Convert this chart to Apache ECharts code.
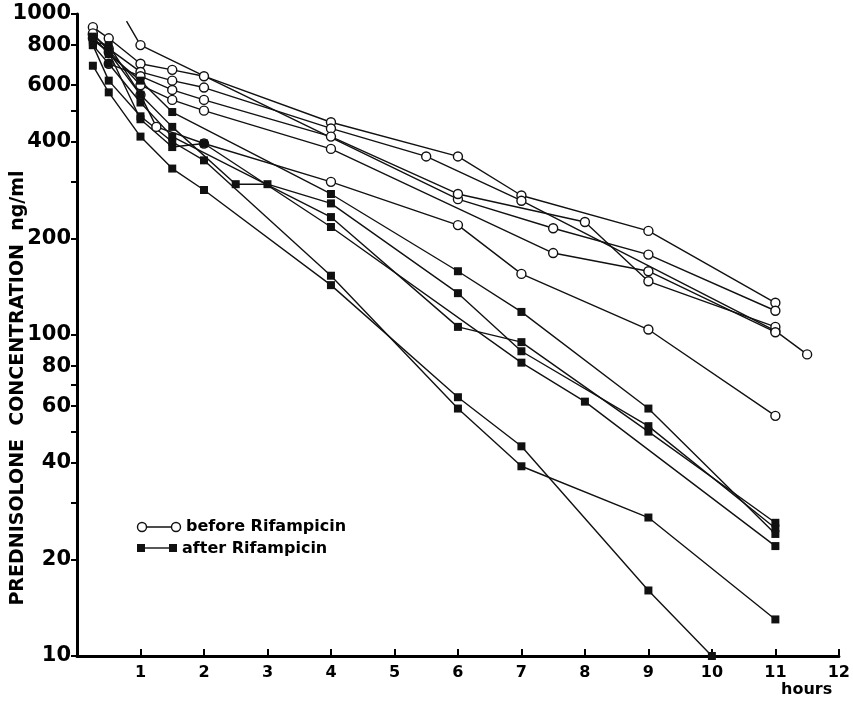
<!DOCTYPE html>
<html>
<head>
<meta charset="utf-8">
<script src="https://cdn.jsdelivr.net/npm/echarts@6/dist/echarts.min.js"></script>
<style>
  html, body { margin: 0; padding: 0; background: #fff; }
  #chart { width: 853px; height: 701px; }
</style>
</head>
<body>
<div id="chart"></div>
<script>
// hours, ng/ml
// before Rifampicin (open circles)
var before1 = [[0.25, 910], [0.5, 840], [1, 700], [1.5, 670], [2, 640], [4, 460], [6, 360], [7, 272], [9, 211], [11, 126]];
var before2 = [[0.25, 860], [0.5, 780], [1, 660], [1.5, 620], [2, 590], [4, 440], [5.5, 360], [7, 262], [11, 103], [11.5, 87]];
var before3 = [[0.78, 950], [1, 800], [6, 265], [7.5, 215], [9, 178], [11, 119]];
var before4 = [[0.5, 700], [1, 640], [1.5, 580], [2, 540], [4, 415], [6, 275], [8, 225], [9, 147], [11, 106]];
var before5 = [[0.25, 870], [1, 600], [1.5, 540], [2, 500], [4, 380], [7.5, 180], [9, 158], [11, 102]];
var before6 = [[0.25, 840], [0.5, 760], [1, 560], [1.25, 445], [2, 395], [4, 300], [6, 220], [7, 155], [9, 104], [11, 56]];

// after Rifampicin (filled squares)
var after1 = [[0.25, 850], [0.5, 750], [1, 620], [1.5, 495], [4, 275], [6, 158], [7, 118], [9, 59], [11, 24]];
var after2 = [[0.25, 820], [0.5, 800], [1, 560], [1.5, 445], [2.5, 295], [3, 295], [4, 257], [6, 135], [7, 89], [9, 52], [11, 25]];
var after3 = [[0.25, 800], [0.5, 700], [1, 530], [1.5, 415], [4, 233], [6, 106], [7, 95], [9, 50], [11, 26]];
var after4 = [[0.25, 830], [0.5, 760], [1, 470], [1.5, 385], [2, 395], [4, 217], [7, 82], [8, 62], [11, 22]];
var after5 = [[0.25, 690], [0.5, 570], [1, 415], [1.5, 330], [2, 283], [4, 143], [6, 64], [7, 45], [9, 16], [10, 10]];
var after6 = [[0.25, 800], [0.5, 620], [1, 480], [1.5, 400], [2, 350], [4, 153], [6, 59], [7, 39], [9, 27], [11, 13]];

var yTickValues = [10, 20, 30, 40, 50, 60, 70, 80, 100, 200, 300, 400, 500, 600, 800, 1000];
var yLabelValues = [10, 20, 40, 60, 80, 100, 200, 400, 600, 800, 1000];
var hourTicks = [1, 2, 3, 4, 5, 6, 7, 8, 9, 10, 11, 12];

var beforeGroups = [before1, before2, before3, before4, before5, before6];
var afterGroups = [after1, after2, after3, after4, after5, after6];

// points that come in from above the frame get no marker
function toLog(points) {
  return points.map(function (p) {
    var item = { value: [p[0], Math.log10(p[1])] };
    if (p[1] > 900 && p[0] > 0.5) item.symbol = 'none';
    return item;
  });
}

var series = [];
beforeGroups.forEach(function (pts) {
  series.push({
    type: 'line',
    data: toLog(pts),
    symbol: 'circle',
    symbolSize: 9,
    showAllSymbol: true,
    lineStyle: { color: '#111', width: 1.4 },
    itemStyle: { color: '#fff', borderColor: '#111', borderWidth: 1.4 },
    z: 3
  });
});
afterGroups.forEach(function (pts) {
  series.push({
    type: 'line',
    data: toLog(pts),
    symbol: 'rect',
    symbolSize: 8,
    showAllSymbol: true,
    lineStyle: { color: '#111', width: 1.4 },
    itemStyle: { color: '#111', borderWidth: 0 },
    z: 3
  });
});

var font = '"DejaVu Sans"';
var chart = echarts.init(document.getElementById('chart'));
chart.setOption({
  animation: false,
  backgroundColor: '#fff',
  grid: { left: 77, right: 11, top: 14, bottom: 45, containLabel: false },
  xAxis: {
    type: 'value',
    min: 0,
    max: 12,
    interval: 1,
    axisLine: { lineStyle: { color: '#000', width: 3 } },
    axisTick: { inside: true, length: 7, lineStyle: { color: '#000', width: 2 } },
    axisLabel: {
      color: '#000',
      fontFamily: 'DejaVu Sans',
      fontWeight: 'bold',
      fontSize: 16,
      margin: 9,
      formatter: function (v) { return hourTicks.indexOf(v) >= 0 ? String(v) : ''; }
    },
    splitLine: { show: false }
  },
  yAxis: {
    type: 'value',
    min: 1,
    max: 3,
    axisLine: { show: true, lineStyle: { color: '#000', width: 3 } },
    axisTick: {
      show: true,
      length: 6,
      customValues: yTickValues.map(Math.log10),
      lineStyle: { color: '#000', width: 2 }
    },
    axisLabel: {
      color: '#000',
      fontFamily: 'DejaVu Sans',
      fontWeight: 'bold',
      fontSize: 21,
      margin: 6,
      customValues: yLabelValues.map(Math.log10),
      formatter: function (v) { return String(Math.round(Math.pow(10, v))); }
    },
    splitLine: { show: false }
  },
  graphic: [
    {
      type: 'text',
      x: 18, y: 388,
      rotation: Math.PI / 2,
      style: {
        text: 'PREDNISOLONE  CONCENTRATION  ng/ml',
        fill: '#000',
        font: 'bold 19px ' + font,
        textAlign: 'center',
        textVerticalAlign: 'middle'
      }
    },
    {
      type: 'text',
      x: 781, y: 690,
      style: { text: 'hours', fill: '#000', font: 'bold 16px ' + font, textVerticalAlign: 'middle' }
    },
    // legend
    { type: 'line', shape: { x1: 142, y1: 527, x2: 176, y2: 527 }, style: { stroke: '#111', lineWidth: 1.4 } },
    { type: 'circle', shape: { cx: 142, cy: 527, r: 4.5 }, style: { fill: '#fff', stroke: '#111', lineWidth: 1.4 } },
    { type: 'circle', shape: { cx: 176, cy: 527, r: 4.5 }, style: { fill: '#fff', stroke: '#111', lineWidth: 1.4 } },
    { type: 'text', x: 186, y: 527, style: { text: 'before Rifampicin', fill: '#000', font: 'bold 16px ' + font, textVerticalAlign: 'middle' } },
    { type: 'line', shape: { x1: 141, y1: 548, x2: 173, y2: 548 }, style: { stroke: '#111', lineWidth: 1.4 } },
    { type: 'rect', shape: { x: 137, y: 544, width: 8, height: 8 }, style: { fill: '#111' } },
    { type: 'rect', shape: { x: 169, y: 544, width: 8, height: 8 }, style: { fill: '#111' } },
    { type: 'text', x: 182, y: 549, style: { text: 'after Rifampicin', fill: '#000', font: 'bold 16px ' + font, textVerticalAlign: 'middle' } }
  ],
  series: series
});
</script>
</body>
</html>
